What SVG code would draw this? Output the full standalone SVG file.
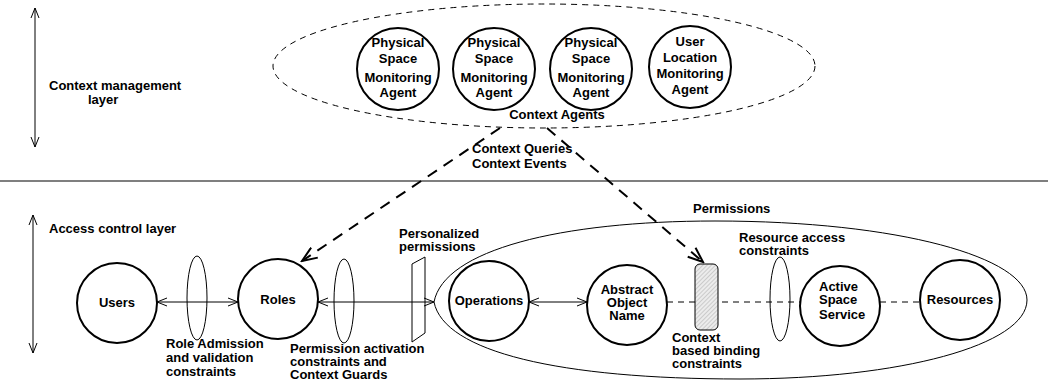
<svg xmlns="http://www.w3.org/2000/svg" width="1048" height="388" viewBox="0 0 1048 388">
<defs>
<style>
text{font-family:"Liberation Sans",Arial,sans-serif;font-weight:bold;font-size:13px;fill:#000}
.mid{text-anchor:middle}
.node{fill:#fff;stroke:#000;stroke-width:2}
.thin{fill:none;stroke:#000;stroke-width:1}
.dash{fill:none;stroke:#000;stroke-width:1;stroke-dasharray:6 5}
.bigdash{fill:none;stroke:#000;stroke-width:2;stroke-dasharray:11 8}
</style>
<marker id="ah" viewBox="0 0 12 10" refX="11" refY="5" markerWidth="12" markerHeight="10" markerUnits="userSpaceOnUse" orient="auto-start-reverse">
<path d="M1,1 L11,5 L1,9" fill="none" stroke="#000" stroke-width="1" stroke-dasharray="none"/>
</marker>
<marker id="ahb" viewBox="0 0 18 14" refX="16" refY="7" markerWidth="18" markerHeight="14" markerUnits="userSpaceOnUse" orient="auto">
<path d="M1,1 L16,7 L1,13" fill="none" stroke="#000" stroke-width="2" stroke-dasharray="none"/>
</marker>
<pattern id="hatch" width="3" height="3" patternUnits="userSpaceOnUse" patternTransform="rotate(45)">
<rect width="3" height="3" fill="#ececec"/>
<line x1="0" y1="0" x2="0" y2="3" stroke="#999" stroke-width="0.8"/>
</pattern>
</defs>
<rect width="1048" height="388" fill="#fff"/>

<g id="layers">
<line x1="35" y1="8" x2="35" y2="147" class="thin" marker-start="url(#ah)" marker-end="url(#ah)"/>
<text x="49" y="90">Context management</text>
<text x="88" y="104">layer</text>
<line x1="0" y1="181" x2="1048" y2="181" stroke="#000" stroke-width="1.2"/>
<line x1="33" y1="215" x2="33" y2="353" class="thin" marker-start="url(#ah)" marker-end="url(#ah)"/>
<text x="49" y="233">Access control layer</text>
</g>

<g id="context-agents">
<ellipse cx="544" cy="66" rx="271" ry="62" class="dash" stroke-dasharray="9 6"/>
<text x="557" y="119" class="mid">Context Agents</text>
</g>
<g id="agent1">
<circle cx="398" cy="69" r="41" class="node"/>
<text x="398" y="47" class="mid">Physical</text>
<text x="398" y="63" class="mid">Space</text>
<text x="398" y="82" class="mid">Monitoring</text>
<text x="398" y="97" class="mid">Agent</text>
</g>
<g id="agent2">
<circle cx="494" cy="69" r="41" class="node"/>
<text x="494" y="47" class="mid">Physical</text>
<text x="494" y="63" class="mid">Space</text>
<text x="494" y="82" class="mid">Monitoring</text>
<text x="494" y="97" class="mid">Agent</text>
</g>
<g id="agent3">
<circle cx="591" cy="69" r="41" class="node"/>
<text x="591" y="47" class="mid">Physical</text>
<text x="591" y="63" class="mid">Space</text>
<text x="591" y="82" class="mid">Monitoring</text>
<text x="591" y="97" class="mid">Agent</text>
</g>
<g id="agent4">
<circle cx="690" cy="67" r="41" class="node"/>
<text x="690" y="46" class="mid">User</text>
<text x="690" y="62" class="mid">Location</text>
<text x="690" y="78" class="mid">Monitoring</text>
<text x="690" y="94" class="mid">Agent</text>
</g>

<g id="permissions">
<path d="M434,302 C444,250 560,221 715,221 C900,221 1027,258 1027,300 C1027,345 900,379 740,379 C560,379 444,352 434,302 Z" class="thin"/>
<text x="693" y="213">Permissions</text>
</g>

<g id="connectors">
<line x1="500" y1="128" x2="302" y2="261" class="bigdash" marker-end="url(#ahb)"/>
<line x1="547" y1="128" x2="703" y2="262" class="bigdash" marker-end="url(#ahb)"/>
<line x1="157" y1="302" x2="238" y2="302" class="thin" marker-start="url(#ah)" marker-end="url(#ah)"/>
<line x1="318" y1="302" x2="434" y2="302" class="thin" marker-start="url(#ah)" marker-end="url(#ah)"/>
<line x1="529" y1="302" x2="587" y2="302" class="thin" marker-start="url(#ah)" marker-end="url(#ah)"/>
<line x1="667" y1="302" x2="800" y2="302" class="dash"/>
<line x1="880" y1="302" x2="920" y2="302" class="dash"/>
</g>
<text x="472" y="153">Context Queries</text>
<text x="472" y="168">Context Events</text>

<g id="users">
<circle cx="117" cy="303" r="40" class="node"/>
<text x="117" y="307" class="mid">Users</text>
</g>
<g id="role-admission">
<ellipse cx="197" cy="298" rx="10" ry="42" class="thin"/>
<text x="166" y="348">Role Admission</text>
<text x="166" y="362">and validation</text>
<text x="166" y="376">constraints</text>
</g>
<g id="roles">
<circle cx="278" cy="299" r="40" class="node"/>
<text x="278" y="304" class="mid">Roles</text>
</g>
<g id="permission-activation">
<ellipse cx="344" cy="301" rx="10" ry="42" class="thin"/>
<text x="290" y="353">Permission activation</text>
<text x="290" y="366">constraints and</text>
<text x="290" y="379">Context Guards</text>
</g>
<g id="personalized">
<polygon points="412,264 425,257 425,333 412,342" class="thin"/>
<text x="399" y="238">Personalized</text>
<text x="399" y="251">permissions</text>
</g>
<g id="operations">
<circle cx="489" cy="301" r="40" class="node"/>
<text x="489" y="305" class="mid">Operations</text>
</g>
<g id="abstract-object">
<circle cx="627" cy="305" r="40" class="node"/>
<text x="627" y="294" class="mid">Abstract</text>
<text x="627" y="307" class="mid">Object</text>
<text x="627" y="320" class="mid">Name</text>
</g>
<g id="context-binding">
<rect x="695" y="264" width="23" height="66" rx="5" fill="url(#hatch)" stroke="#000" stroke-width="1"/>
<text x="672" y="342">Context</text>
<text x="672" y="355">based binding</text>
<text x="672" y="368">constraints</text>
</g>
<g id="resource-access">
<ellipse cx="780" cy="299" rx="10" ry="42" class="thin"/>
<text x="739" y="242">Resource access</text>
<text x="739" y="255">constraints</text>
</g>
<g id="active-space">
<circle cx="840" cy="306" r="40" class="node"/>
<text x="819" y="291">Active</text>
<text x="819" y="304">Space</text>
<text x="819" y="319">Service</text>
</g>
<g id="resources">
<circle cx="960" cy="300" r="40" class="node"/>
<text x="960" y="304" class="mid">Resources</text>
</g>
</svg>
